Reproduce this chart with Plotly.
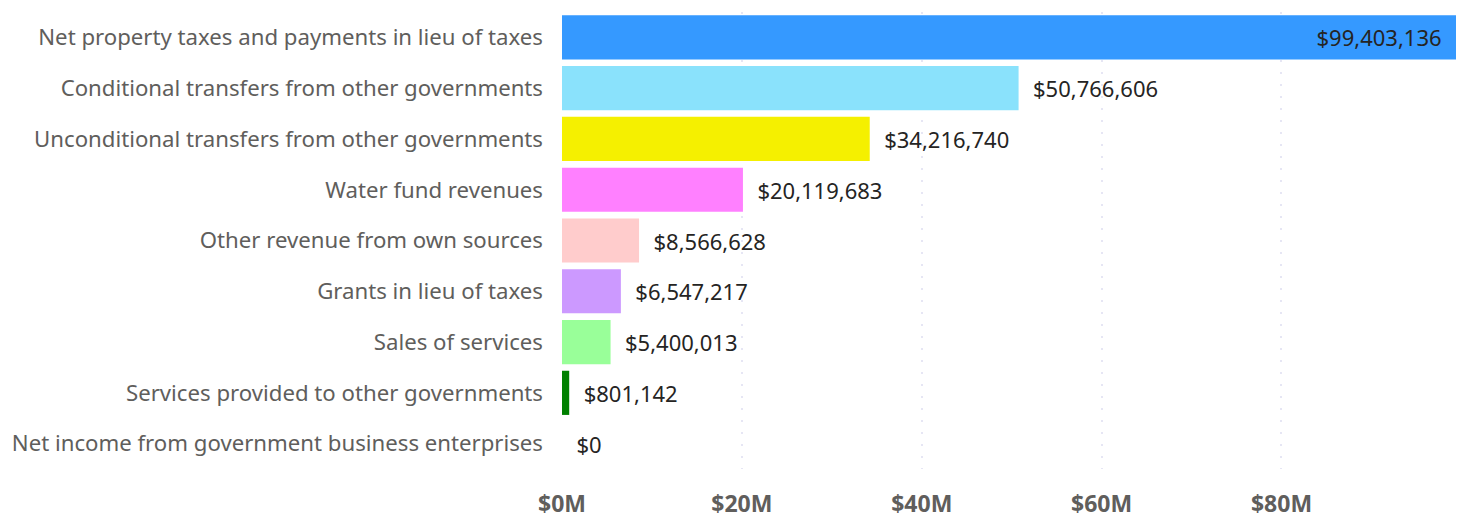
import plotly.graph_objects as go

categories = [
    "Net property taxes and payments in lieu of taxes",
    "Conditional transfers from other governments",
    "Unconditional transfers from other governments",
    "Water fund revenues",
    "Other revenue from own sources",
    "Grants in lieu of taxes",
    "Sales of services",
    "Services provided to other governments",
    "Net income from government business enterprises",
]
values = [99403136, 50766606, 34216740, 20119683, 8566628, 6547217, 5400013, 801142, 0]
colors = ["#3599FF", "#8AE2FC", "#F5F000", "#FF80FF", "#FFCCCC",
          "#CC99FF", "#99FF99", "#008000", "#CCCCCC"]
tick_vals = [0, 20e6, 40e6, 60e6, 80e6]
tick_text = ["$0M", "$20M", "$40M", "$60M", "$80M"]

nb = "\u00a0"
labels = ["${:,.0f}".format(values[0]) + nb * 2] + \
         [nb * 2 + "${:,.0f}".format(v) for v in values[1:]]
positions = ["inside"] + ["outside"] * (len(values) - 1)

fig = go.Figure(go.Bar(
    x=values,
    y=categories,
    orientation="h",
    marker=dict(color=colors, line=dict(width=0)),
    width=0.87,
    text=labels,
    textposition=positions,
    insidetextanchor="end",
    textfont=dict(family="Noto Sans", size=22, color="#252423"),
    insidetextfont=dict(color="#252423"),
    outsidetextfont=dict(color="#252423"),
    cliponaxis=False,
))

# page body has an 8px margin, so the figure is shrunk and offset by 8px
fig.update_layout(
    width=1456, height=512,
    margin=dict(l=554, r=8, t=4, b=51),
    plot_bgcolor="white", paper_bgcolor="white",
    showlegend=False,
    font=dict(family="Noto Sans"),
)
fig.update_xaxes(
    range=[0, 99403136],
    tickvals=tick_vals, ticktext=tick_text,
    tickfont=dict(size=23, color="#605E5C", family="Open Sans", weight="bold"),
    showgrid=True, gridcolor="#E6E6F4", griddash="2px,10px", gridwidth=2,
    zeroline=False, showline=False, ticks="",
    ticklabelstandoff=19, automargin=False,
)
fig.update_yaxes(
    autorange="reversed",
    tickfont=dict(size=22.2, color="#605E5C", family="Noto Sans"),
    showgrid=False, zeroline=False, showline=False, ticks="",
    ticklabelstandoff=18, automargin=False,
)

fig.write_html("out.html")
